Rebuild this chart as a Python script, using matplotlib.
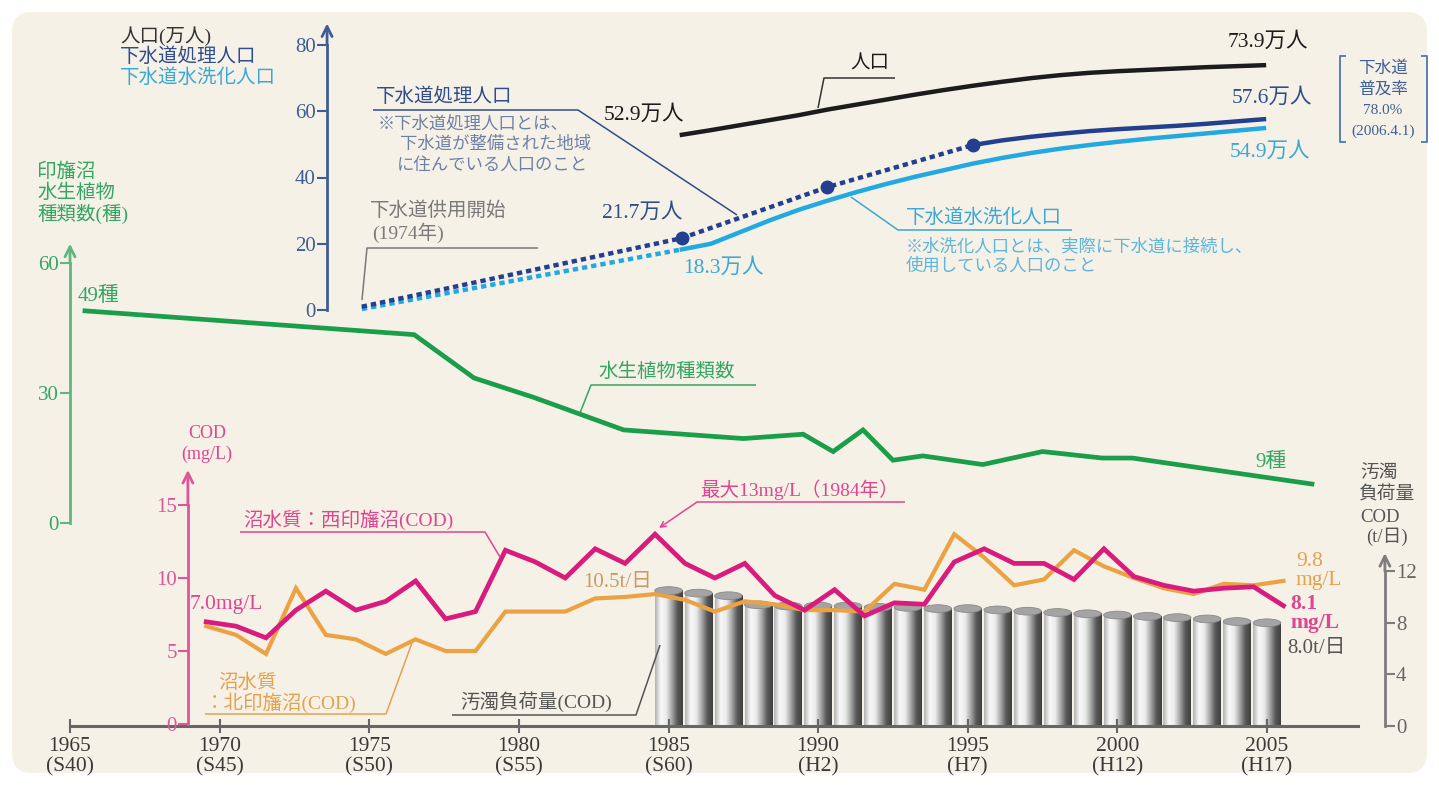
import numpy as np
import matplotlib
matplotlib.use("Agg")
import matplotlib.pyplot as plt
from matplotlib.patches import FancyBboxPatch, Ellipse
from matplotlib.colors import LinearSegmentedColormap

plt.rcParams['font.family'] = ['Liberation Serif', 'Noto Sans CJK JP']

# ---- data ----
pop_years = list(range(1985, 2006))
pop_total = [52.9, 54.3, 55.8, 57.3, 58.8, 60.5, 62.0, 63.5, 65.0, 66.4, 67.7,
             68.9, 70.0, 70.9, 71.6, 72.1, 72.5, 72.9, 73.3, 73.6, 73.9]

sewer_plan_years = [1974, 1985, 1990, 1995]
sewer_plan = [1.0, 21.7, 37.1, 49.8]
sewer_years = list(range(1995, 2006))
sewer_pop = [49.8, 51.2, 52.3, 53.2, 54.0, 54.6, 55.1, 55.6, 56.2, 56.9, 57.6]

flush_plan_years = [1974, 1985]
flush_plan = [0.3, 18.3]
flush_years = list(range(1985, 2006))
flush_pop = [18.3, 20.0, 23.5, 27.0, 30.2, 33.0, 35.6, 38.0, 40.2, 42.2, 44.2,
             45.9, 47.4, 48.7, 49.8, 50.8, 51.7, 52.5, 53.3, 54.1, 54.9]

plant_years = [1965, 1976, 1978, 1980, 1983, 1985, 1987, 1989, 1990, 1991,
               1992, 1993, 1995, 1997, 1999, 2000, 2002, 2006]
plant_counts = [49, 43.5, 33.5, 29, 21.5, 20.5, 19.5, 20.5, 16.5, 21.5,
                14.5, 15.5, 13.5, 16.5, 15, 15, 13, 9]

cod_years = list(range(1969, 2006))
cod_west = [7.0, 6.7, 5.9, 7.8, 9.1, 7.8, 8.4, 9.8, 7.2, 7.7, 11.9, 11.1, 10.0,
            12.0, 11.0, 13.0, 11.0, 10.0, 11.0, 8.8, 7.8, 9.2, 7.4, 8.3, 8.2,
            11.1, 12.0, 11.0, 11.0, 9.9, 12.0, 10.1, 9.5, 9.1, 9.3, 9.4, 8.1]
cod_north = [6.7, 6.1, 4.8, 9.3, 6.1, 5.8, 4.8, 5.8, 5.0, 5.0, 7.7, 7.7, 7.7,
             8.6, 8.7, 8.9, 8.5, 7.7, 8.4, 8.2, 7.8, 7.8, 7.7, 9.6, 9.2,
             13.0, 11.4, 9.5, 9.9, 11.9, 10.8, 10.0, 9.3, 8.9, 9.6, 9.5, 9.8]

load_years = list(range(1985, 2006))
load_tons = [10.5, 10.3, 10.1, 9.4, 9.3, 9.3, 9.3, 9.2, 9.2, 9.1, 9.1,
             9.0, 8.9, 8.8, 8.7, 8.6, 8.5, 8.4, 8.3, 8.1, 8.0]

xtick_years = [1965, 1970, 1975, 1980, 1985, 1990, 1995, 2000, 2005]
xtick_eras = ['S40', 'S45', 'S50', 'S55', 'S60', 'H2', 'H7', 'H12', 'H17']

# ---- colours ----
BLACK = '#1c1c1c'
NAVY = '#22408f'
NAVY_T = '#2f4c8c'
CYAN = '#22a9e1'
CYAN_T = '#3aa7d6'
GREEN = '#1a9e4a'
GREEN_T = '#34a563'
PINK = '#d81b7c'
PINK_T = '#e0468f'
ORANGE = '#eba243'
ORANGE_T = '#e4a24e'
GRAY_T = '#7a7a7a'
DARK_T = '#555555'

W, H = 1439, 785
PX_YEAR = 29.925
X0 = 1965 - 70 / PX_YEAR
X1 = X0 + W / PX_YEAR

fig = plt.figure(figsize=(W / 100, H / 100), dpi=100)


def pixel_axes():
    ax = fig.add_axes([0, 0, 1, 1])
    ax.set_xlim(0, W)
    ax.set_ylim(H, 0)
    ax.axis('off')
    return ax


def layer(zero_px, ppu):
    # full-figure axes whose y scale puts 0 at zero_px with ppu pixels per unit
    ax = fig.add_axes([0, 0, 1, 1])
    ax.set_xlim(X0, X1)
    ax.set_ylim((zero_px - H) / ppu, zero_px / ppu)
    ax.patch.set_visible(False)
    for s in ax.spines.values():
        s.set_visible(False)
    ax.set_xticks([])
    ax.set_yticks([])
    return ax


def value_axis(ax, side, xpos, ticks, top, color, labelcolor):
    sp = ax.spines[side]
    sp.set_visible(True)
    sp.set_position(('data', xpos))
    sp.set_bounds(0, ticks[-1])
    sp.set_color(color)
    sp.set_linewidth(2)
    if side == 'right':
        ax.yaxis.tick_right()
    ax.set_yticks(ticks)
    ax.tick_params(axis='y', colors=color, labelcolor=labelcolor, length=7,
                   width=1.5, labelsize=15, pad=1)
    ax.annotate('', xy=(xpos, top), xytext=(xpos, ticks[-1]),
                arrowprops=dict(arrowstyle='->', color=color, lw=2,
                                mutation_scale=18, shrinkA=0, shrinkB=0))


def pop_x(years):
    return 1974.75 + (np.asarray(years) - 1974) * 0.9725


# background panel
bg = pixel_axes()
bg.add_patch(FancyBboxPatch((12, 12), W - 24, H - 24,
                            boxstyle='round,pad=0,rounding_size=20',
                            facecolor='#f6f1e6', edgecolor='none'))

# ---- pollution load bars (right axis) ----
axL = layer(726, 12.9)
cyl = LinearSegmentedColormap.from_list(
    'cyl', ['#b3b3b3', '#f8f8f8', '#ececec', '#a8a8a8', '#5a5a5a', '#3f3f3f'])
grad = np.linspace(0, 1, 64).reshape(1, -1)
for yr, v in zip(load_years, load_tons):
    axL.imshow(grad, cmap=cyl, extent=(yr - 0.46, yr + 0.46, 0, v),
               aspect='auto', interpolation='bilinear', zorder=1)
    axL.add_patch(Ellipse((yr, v), 0.92, 0.6, facecolor='#a4a4a4',
                          edgecolor='#8a8a8a', lw=0.6, zorder=2))
axL.set_xlim(X0, X1)
axL.set_ylim((726 - H) / 12.9, 726 / 12.9)
value_axis(axL, 'right', 2008.94, [0, 4, 8, 12], 13.4, '#7d7d7d', '#666666')

bot = axL.spines['bottom']
bot.set_visible(True)
bot.set_position(('data', 0))
bot.set_bounds(1965, 2008.05)
bot.set_color('#666666')
bot.set_linewidth(2.2)
axL.set_xticks(xtick_years)
axL.set_xticklabels([f'{y}\n({e})' for y, e in zip(xtick_years, xtick_eras)],
                    linespacing=1.05)
axL.tick_params(axis='x', direction='inout', length=10, width=1.5,
                colors='#666666', labelcolor='#3a3a3a', labelsize=15.5, pad=3)

# ---- COD lines ----
axC = layer(724, 14.6)
cx = np.array(cod_years) + 0.55
axC.plot(cx, cod_north, color=ORANGE, lw=3.0, solid_joinstyle='miter', zorder=3)
axC.plot(cx, cod_west, color=PINK, lw=3.4, solid_joinstyle='miter', zorder=4)
value_axis(axC, 'left', 1968.94, [0, 5, 10, 15], 17.4, '#e0559a', '#e0559a')

# ---- aquatic plant species ----
axP = layer(523, 4.33)
axP.plot(np.array(plant_years) + 0.5, plant_counts, color=GREEN, lw=3.4,
         solid_joinstyle='miter')
value_axis(axP, 'left', 1965.0, [0, 30, 60], 64.5, '#5fb77f', GREEN_T)

# ---- population ----
axT = layer(310, 3.3125)
axT.plot(pop_x(flush_plan_years), flush_plan, color=CYAN, lw=3.2,
         linestyle=(0, (1.2, 0.9)))
axT.plot(pop_x(sewer_plan_years), sewer_plan, color=NAVY, lw=3.2,
         linestyle=(0, (1.2, 0.9)))
axT.plot(pop_x(flush_years), flush_pop, color=CYAN, lw=3.2)
axT.plot(pop_x(sewer_years), sewer_pop, color=NAVY, lw=3.2)
axT.plot(pop_x(sewer_plan_years[1:]), sewer_plan[1:], 'o', color=NAVY, ms=9)
axT.plot(pop_x(pop_years), pop_total, color=BLACK, lw=3.2)
value_axis(axT, 'left', 1973.59, [0, 20, 40, 60, 80], 86.5, '#3d5d94', '#3d5d94')

# ---- labels and leader lines (pixel coordinates) ----
ov = pixel_axes()


def txt(x, y, s, color, size=14, ha='left', **kw):
    ov.text(x, y, s, color=color, fontsize=size, ha=ha, va='center', **kw)


def leader(xs, ys, color, lw=1.1):
    ov.plot(xs, ys, color=color, lw=lw, solid_capstyle='butt')


# axis titles
txt(120, 36, '人口(万人)', '#333333', 14)
txt(120, 57, '下水道処理人口', NAVY_T, 14)
txt(120, 78, '下水道水洗化人口', CYAN_T, 14)
txt(37, 172, '印旛沼', GREEN_T, 14)
txt(37, 193, '水生植物', GREEN_T, 14)
txt(37, 214, '種類数(種)', GREEN_T, 14)
txt(207, 434, 'COD', PINK_T, 13, ha='center')
txt(207, 454, '(mg/L)', PINK_T, 13, ha='center')
txt(1360, 473, '汚濁', DARK_T, 13.5)
txt(1358, 495, '負荷量', DARK_T, 13.5)
txt(1360, 517, 'COD', DARK_T, 13.5)
txt(1366, 537, '(t/日)', DARK_T, 13.5)

# plants
txt(78, 296, '49種', GREEN_T, 15)
txt(1255, 462, '9種', GREEN_T, 15)
txt(598, 372, '水生植物種類数', GREEN_T, 14)
leader([756, 591, 580], [385, 385, 413], GREEN_T)

# COD
txt(190, 604, '7.0mg/L', PINK_T, 15.5)
txt(243, 520, '沼水質：西印旛沼(COD)', PINK_T, 14)
leader([240, 485, 500], [532, 532, 557], PINK_T)
txt(700, 490, '最大13mg/L（1984年）', PINK_T, 14)
leader([905, 697], [502, 502], PINK_T)
ov.annotate('', xy=(659, 528), xytext=(697, 502),
            arrowprops=dict(arrowstyle='->', color=PINK_T, lw=1.1,
                            shrinkA=0, shrinkB=0))
txt(1290, 604, '8.1', PINK_T, 15.5, fontweight='bold')
txt(1290, 623, 'mg/L', PINK_T, 15.5, fontweight='bold')
txt(1296, 562, '9.8', ORANGE_T, 15.5)
txt(1296, 581, 'mg/L', ORANGE_T, 15.5)
txt(218, 683, '沼水質', ORANGE_T, 14)
txt(205, 703, '：北印旛沼(COD)', ORANGE_T, 14)
leader([205, 386, 413], [714, 714, 640], ORANGE_T)

# load
txt(583, 582, '10.5t/日', '#c99a66', 15)
txt(1287, 648, '8.0t/日', DARK_T, 15)
txt(460, 702, '汚濁負荷量(COD)', DARK_T, 14)
leader([452, 636, 660], [715, 715, 645], DARK_T)

# population
txt(604, 115, '52.9万人', BLACK, 15.5)
txt(1228, 42, '73.9万人', BLACK, 15.5)
txt(1232, 98, '57.6万人', NAVY_T, 15.5)
txt(1230, 152, '54.9万人', CYAN_T, 15.5)
txt(602, 213, '21.7万人', NAVY_T, 15.5)
txt(683, 268, '18.3万人', CYAN_T, 15.5)

txt(376, 97, '下水道処理人口', NAVY_T, 14)
leader([373, 578, 737], [110, 110, 215], NAVY_T)
txt(378, 124, '※下水道処理人口とは、', '#6f80a8', 12.5)
txt(400, 145, '下水道が整備された地域', '#6f80a8', 12.5)
txt(397, 166, 'に住んでいる人口のこと', '#6f80a8', 12.5)

txt(370, 211, '下水道供用開始', GRAY_T, 14)
txt(372, 233, '(1974年)', GRAY_T, 14)
leader([538, 367, 362], [248, 248, 300], GRAY_T)

txt(850, 64, '人口', BLACK, 14)
leader([895, 824, 818], [78, 78, 108], '#333333')

txt(906, 218, '下水道水洗化人口', CYAN_T, 14)
leader([1072, 898, 851], [230, 230, 197], CYAN_T)
txt(906, 247, '※水洗化人口とは、実際に下水道に接続し、', '#5cb5dc', 12.5)
txt(906, 267, '使用している人口のこと', '#5cb5dc', 12.5)

# sewer coverage bracket
BR = '#5a7fb5'
leader([1346, 1340, 1340, 1346], [56, 56, 142, 142], BR, 1.4)
leader([1421, 1427, 1427, 1421], [56, 56, 142, 142], BR, 1.4)
txt(1383, 69, '下水道', '#3f5f99', 12, ha='center')
txt(1383, 90, '普及率', '#3f5f99', 12, ha='center')
txt(1383, 111, '78.0%', '#3f5f99', 11, ha='center')
txt(1383, 131, '(2006.4.1)', '#3f5f99', 11, ha='center')

fig.savefig('out.png', dpi=100, facecolor='white')
